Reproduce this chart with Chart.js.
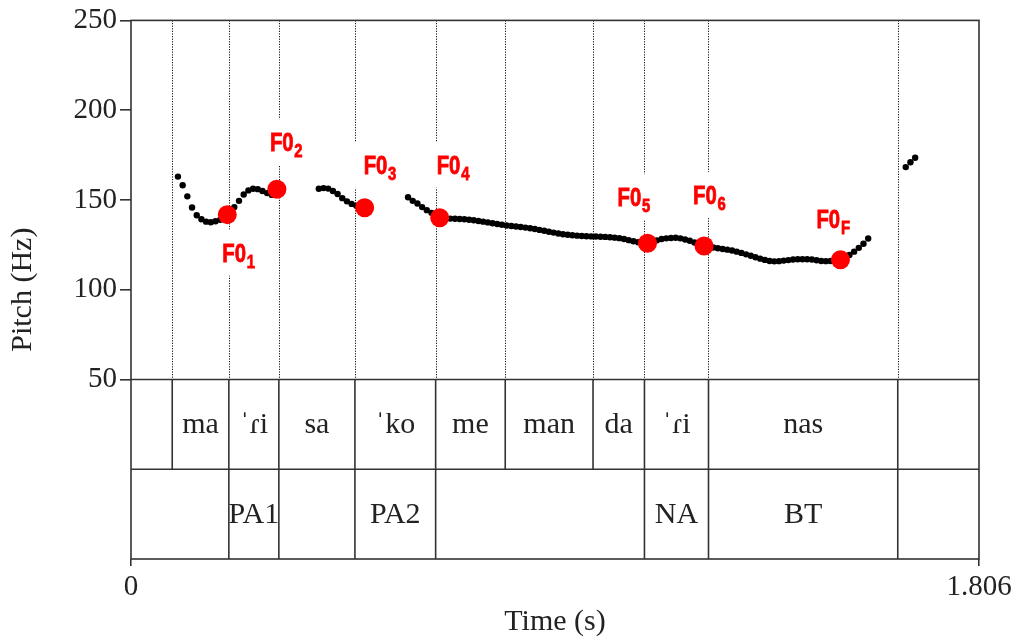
<!DOCTYPE html>
<html>
<head>
<meta charset="utf-8">
<script src="https://cdn.jsdelivr.net/npm/chart.js@4"></script>
<style>
  html, body { margin: 0; padding: 0; background: #fff; }
</style>
</head>
<body>
<canvas id="pitchChart" width="1018" height="643"></canvas>
<script>
// pitch track (time in s, F0 in Hz), one dot per 10 ms
var pitchTime = [
  0.10, 0.11, 0.12, 0.13, 0.14, 0.15, 0.16, 0.17, 0.18, 0.19,
  0.20, 0.21, 0.22, 0.23, 0.24, 0.25, 0.26, 0.27, 0.28, 0.29, 0.30,
  0.40, 0.41, 0.42, 0.43, 0.44, 0.45, 0.46, 0.47, 0.48, 0.49,
  0.59, 0.60, 0.61, 0.62, 0.63, 0.64, 0.65, 0.66, 0.67, 0.68,
  0.69, 0.70, 0.71, 0.72, 0.73, 0.74, 0.75, 0.76, 0.77, 0.78,
  0.79, 0.80, 0.81, 0.82, 0.83, 0.84, 0.85, 0.86, 0.87, 0.88,
  0.89, 0.90, 0.91, 0.92, 0.93, 0.94, 0.95, 0.96, 0.97, 0.98,
  0.99, 1.00, 1.01, 1.02, 1.03, 1.04, 1.05, 1.06, 1.07, 1.08,
  1.09, 1.10, 1.11, 1.12, 1.13, 1.14, 1.15, 1.16, 1.17, 1.18,
  1.19, 1.20, 1.21, 1.22, 1.23, 1.24, 1.25, 1.26, 1.27, 1.28,
  1.29, 1.30, 1.31, 1.32, 1.33, 1.34, 1.35, 1.36, 1.37, 1.38,
  1.39, 1.40, 1.41, 1.42, 1.43, 1.44, 1.45, 1.46, 1.47, 1.48,
  1.49, 1.50, 1.51, 1.52, 1.53, 1.54, 1.55, 1.56, 1.57,
  1.65, 1.66, 1.67
];
var pitchHz = [
  163, 158.2, 152, 145.8, 141.5, 139.2, 137.9, 137.6, 138.1, 139,
  140.8, 143.2, 146, 149.5, 153, 155.3, 156.2, 156, 155, 153.8, 152.8,
  156.2, 156.6, 156.3, 155, 153.3, 151, 149.2, 147.8, 146.8, 146,
  151.5, 149.5, 148, 146, 144.3, 142.8, 141.2, 140, 139.7, 139.6,
  139.5, 139.4, 139.2, 139, 138.7, 138.3, 137.9, 137.5, 137, 136.6,
  136.2, 135.8, 135.5, 135.2, 134.9, 134.6, 134.2, 133.8, 133.3, 132.8,
  132.3, 131.8, 131.3, 130.9, 130.6, 130.3, 130.1, 129.9, 129.8, 129.7,
  129.6, 129.5, 129.4, 129.2, 129, 128.7, 128.2, 127.6, 127, 126.4,
  126, 125.9, 126.5, 127.5, 128.2, 128.6, 128.8, 128.9, 128.6, 128,
  127.3, 126.3, 125.2, 124.4, 123.9, 123.5, 123.1, 122.7, 122.3, 121.8,
  121.2, 120.5, 119.7, 118.9, 118.1, 117.3, 116.6, 116, 115.8, 115.9,
  116.2, 116.5, 116.8, 117, 117, 117, 116.8, 116.4, 116, 115.9,
  116, 116.3, 116.8, 117.8, 119.3, 121.2, 123.3, 125.6, 128.5,
  168.3, 171, 173.5
];

// marked F0 targets
var f0Time = [0.205, 0.3107, 0.4976, 0.6574, 1.100, 1.2205, 1.511];
var f0Hz = [141.8, 156.0, 145.6, 140.1, 125.9, 124.3, 116.7];
var f0Sub = ['1', '2', '3', '4', '5', '6', 'F'];

// text grid tiers
var sylBounds = [0, 0.0878, 0.2084, 0.3149, 0.4769, 0.6488, 0.797, 0.984, 1.0935, 1.2299, 1.633, 1.806];
var sylLabels = ['', 'ma', '\u02C8\u027Ei', 'sa', '\u02C8ko', 'me', 'man', 'da', '\u02C8\u027Ei', 'nas', ''];
var toneBounds = [0, 0.2084, 0.3149, 0.4769, 0.6488, 1.0935, 1.2299, 1.633, 1.806];
var toneLabels = ['', 'PA1', '', 'PA2', '', 'NA', 'BT', ''];

var yTickValues = [50, 100, 150, 200, 250];
var xTickValues = [0, 1.806];
var xTickText = ['0', '1.806'];

// label placement relative to each red dot (px): left edge, baseline
var labelOffset = [[-5, 47], [-7, -38], [-1, -34], [-3, -44], [-30, -37], [-11, -42], [-24, -32]];

var serif = "'Liberation Serif', 'Times New Roman', 'DejaVu Serif', serif";
var labelFamily = "'Liberation Sans', Arial, sans-serif";
var labelSqueeze = 0.78;
var ink = '#222';
var lineInk = '#333';

var contour = pitchTime.map(function(t, i) { return {x: t, y: pitchHz[i]}; });
var targets = f0Time.map(function(t, i) { return {x: t, y: f0Hz[i]}; });

var textGrid = {
  id: 'textGrid',
  beforeDatasetsDraw: function(chart) {
    var ctx = chart.ctx, a = chart.chartArea, x = chart.scales.x, y = chart.scales.y;
    var yFloor = y.getPixelForValue(50);
    ctx.save();
    // dotted boundaries in the pitch panel
    ctx.strokeStyle = '#111';
    ctx.lineWidth = 1;
    ctx.setLineDash([1.2, 1.4]);
    sylBounds.slice(1, -1).forEach(function(t) {
      var px = Math.round(x.getPixelForValue(t)) + 0.5;
      ctx.beginPath();
      ctx.moveTo(px, a.top);
      ctx.lineTo(px, yFloor);
      ctx.stroke();
    });
    ctx.setLineDash([]);
    // white patches behind the F0 labels
    ctx.fillStyle = '#fff';
    f0Time.forEach(function(t, i) {
      var lx = x.getPixelForValue(t) + labelOffset[i][0];
      var ly = y.getPixelForValue(f0Hz[i]) + labelOffset[i][1];
      ctx.fillRect(lx - 12, ly - 32, 58, 46);
    });
    ctx.restore();
  },
  afterDatasetsDraw: function(chart) {
    var ctx = chart.ctx, a = chart.chartArea, x = chart.scales.x, y = chart.scales.y;
    var yFloor = y.getPixelForValue(50);
    var yMid = (yFloor + a.bottom) / 2;
    ctx.save();
    ctx.strokeStyle = lineInk;
    ctx.lineWidth = 1.6;
    ctx.strokeRect(a.left, a.top, a.right - a.left, a.bottom - a.top);
    ctx.beginPath();
    ctx.moveTo(a.left, yFloor); ctx.lineTo(a.right, yFloor);
    ctx.moveTo(a.left, yMid); ctx.lineTo(a.right, yMid);
    ctx.stroke();

    function tier(bounds, labels, top, bottom) {
      ctx.beginPath();
      bounds.slice(1, -1).forEach(function(t) {
        var px = x.getPixelForValue(t);
        ctx.moveTo(px, top); ctx.lineTo(px, bottom);
      });
      ctx.stroke();
      ctx.fillStyle = ink;
      ctx.font = '30px ' + serif;
      ctx.textAlign = 'center';
      ctx.textBaseline = 'middle';
      labels.forEach(function(lab, i) {
        if (!lab) return;
        var cx = (x.getPixelForValue(bounds[i]) + x.getPixelForValue(bounds[i + 1])) / 2;
        ctx.fillText(lab, cx, (top + bottom) / 2 + 1);
      });
    }
    tier(sylBounds, sylLabels, yFloor, yMid);
    tier(toneBounds, toneLabels, yMid, a.bottom);

    // F0 labels, squeezed horizontally to look like a condensed face
    ctx.fillStyle = '#ff0000';
    ctx.strokeStyle = '#ff0000';
    ctx.lineWidth = 0.8;
    ctx.textAlign = 'left';
    ctx.textBaseline = 'alphabetic';
    f0Time.forEach(function(t, i) {
      var lx = x.getPixelForValue(t) + labelOffset[i][0];
      var ly = y.getPixelForValue(f0Hz[i]) + labelOffset[i][1];
      ctx.save();
      ctx.translate(lx, ly);
      ctx.scale(labelSqueeze, 1);
      ctx.font = 'bold 26px ' + labelFamily;
      var w = ctx.measureText('F0').width;
      ctx.fillText('F0', 0, 0);
      ctx.strokeText('F0', 0, 0);
      ctx.font = 'bold 19px ' + labelFamily;
      ctx.fillText(f0Sub[i], w + 1, 6);
      ctx.strokeText(f0Sub[i], w + 1, 6);
      ctx.restore();
    });
    ctx.restore();
  }
};

new Chart(document.getElementById('pitchChart'), {
  type: 'scatter',
  data: {
    datasets: [
      {
        label: 'F0 targets',
        data: targets,
        pointRadius: 9.5,
        pointBackgroundColor: '#ff0000',
        pointBorderWidth: 0
      },
      {
        label: 'Pitch',
        data: contour,
        pointRadius: 3.2,
        pointBackgroundColor: '#000',
        pointBorderWidth: 0
      }
    ]
  },
  options: {
    responsive: false,
    animation: false,
    events: [],
    layout: { padding: { top: 20, right: 39, left: 0, bottom: 0 } },
    plugins: { legend: { display: false }, tooltip: { enabled: false } },
    scales: {
      x: {
        type: 'linear',
        min: 0,
        max: 1.806,
        afterBuildTicks: function(s) { s.ticks = xTickValues.map(function(v) { return {value: v}; }); },
        afterFit: function(s) { s.height = 84; },
        ticks: {
          autoSkip: false,
          maxRotation: 0,
          padding: 4,
          color: ink,
          font: { family: serif, size: 29, lineHeight: 1.2 },
          callback: function(v) { return xTickText[xTickValues.indexOf(v)]; }
        },
        grid: { drawOnChartArea: false, tickLength: 7, color: lineInk, lineWidth: 1.6 },
        border: { display: false },
        title: {
          display: true,
          text: 'Time (s)',
          color: ink,
          font: { family: serif, size: 30, lineHeight: 1 },
          padding: { top: 0, bottom: 6 }
        }
      },
      y: {
        min: -50,
        max: 250,
        afterBuildTicks: function(s) { s.ticks = yTickValues.map(function(v) { return {value: v}; }); },
        afterFit: function(s) { s.width = 131; },
        ticks: {
          padding: 3,
          color: ink,
          font: { family: serif, size: 29, lineHeight: 1.2 },
          callback: function(v) { return String(v); }
        },
        grid: { drawOnChartArea: false, tickLength: 11, color: lineInk, lineWidth: 1.6 },
        border: { display: false },
        title: {
          display: true,
          text: 'Pitch (Hz)',
          color: ink,
          font: { family: serif, size: 30, lineHeight: 1.2 },
          padding: { top: 5, bottom: 0 }
        }
      }
    }
  },
  plugins: [textGrid]
});
</script>
</body>
</html>
